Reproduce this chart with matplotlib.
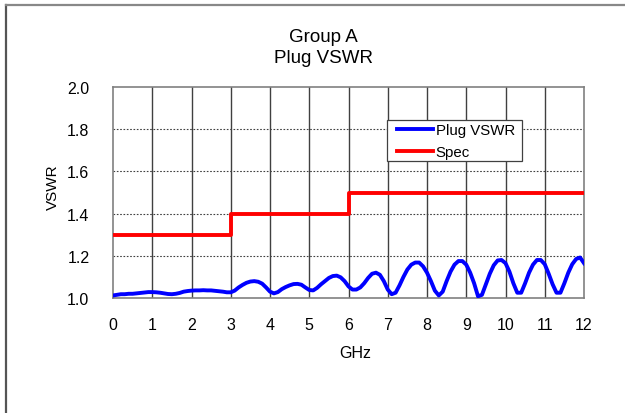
import matplotlib
matplotlib.use("Agg")
import matplotlib.pyplot as plt
from matplotlib.lines import Line2D
from matplotlib.patches import Rectangle

# ---- data ----
freq_ghz = [round(0.1 * i, 1) for i in range(121)]
plug_vswr = [
    1.012, 1.015, 1.018, 1.018, 1.020, 1.020, 1.022, 1.024, 1.026, 1.028,
    1.028, 1.027, 1.025, 1.022, 1.019, 1.018, 1.020, 1.024, 1.030, 1.033,
    1.035, 1.036, 1.036, 1.037, 1.036, 1.036, 1.034, 1.032, 1.030, 1.027,
    1.027, 1.035, 1.050, 1.062, 1.072, 1.078, 1.080, 1.077, 1.068, 1.050,
    1.030, 1.022, 1.028, 1.042, 1.052, 1.060, 1.066, 1.067, 1.063, 1.050,
    1.038, 1.036, 1.048, 1.065, 1.080, 1.095, 1.104, 1.106, 1.098, 1.080,
    1.055, 1.040, 1.040, 1.050, 1.070, 1.095, 1.115, 1.120, 1.110, 1.080,
    1.040, 1.018, 1.025, 1.060, 1.100, 1.135, 1.158, 1.168, 1.168, 1.150,
    1.120, 1.080, 1.035, 1.012, 1.030, 1.080, 1.125, 1.158, 1.175, 1.175,
    1.158, 1.120, 1.070, 1.008, 1.015, 1.065, 1.115, 1.155, 1.178, 1.180,
    1.165, 1.125, 1.070, 1.025, 1.025, 1.070, 1.120, 1.158, 1.180, 1.180,
    1.160, 1.115, 1.065, 1.025, 1.025, 1.070, 1.120, 1.160, 1.185, 1.192,
    1.165,
]
spec_x = [0, 3, 6, 12]
spec_y = [1.3, 1.4, 1.5, 1.5]
x_ticks = list(range(0, 13))
y_ticks = [1.0, 1.2, 1.4, 1.6, 1.8, 2.0]

plt.rcParams["font.family"] = ["Liberation Sans", "DejaVu Sans"]

W, H = 625, 414
fig = plt.figure(figsize=(W / 100, H / 100), dpi=100)
fig.patch.set_facecolor("white")

# outer border (left and top visible)
fig.add_artist(Line2D([5.5 / W, 5.5 / W], [0, 1 - 6 / H], transform=fig.transFigure,
                      color="#555555", lw=1.6))
fig.add_artist(Line2D([5.5 / W, 1], [1 - 6 / H, 1 - 6 / H], transform=fig.transFigure,
                      color="#888888", lw=1.6))

left, right, top, bottom = 113, 584, 88, 299
ax = fig.add_axes([left / W, 1 - bottom / H, (right - left) / W, (bottom - top) / H])

ax.plot(freq_ghz, plug_vswr, color="#0000FF", lw=2.8, label="Plug VSWR", zorder=3,
        solid_joinstyle="round")
ax.plot(spec_x, spec_y, color="#FF0000", lw=2.8, drawstyle="steps-post", label="Spec",
        zorder=3)

ax.set_xlim(0, 12)
ax.set_ylim(1.0, 2.0)
ax.set_xticks(x_ticks)
ax.set_yticks(y_ticks)
ax.set_yticklabels([f"{v:.1f}" for v in y_ticks])
ax.tick_params(axis="both", length=0, labelsize=11.5, colors="black")
ax.tick_params(axis="x", pad=14)
ax.tick_params(axis="y", pad=17)

for xv in x_ticks[1:-1]:
    ax.axvline(xv, color="#404040", lw=1.0, zorder=1)
for yv in y_ticks[1:-1]:
    ax.axhline(yv, color="#404040", lw=0.8, ls=(0, (1.5, 1.5)), zorder=1)

for s in ax.spines.values():
    s.set_color("#808080")
    s.set_linewidth(1.2)

fig.text(323 / W, 1 - 48 / H, "Group A\nPlug VSWR", ha="center", va="center",
         fontsize=13.5, linespacing=1.35)
fig.text(53 / W, 1 - 187 / H, "VSWR", rotation=90, ha="center", va="center",
         fontsize=11)
fig.text(355 / W, 1 - 354 / H, "GHz", ha="center", va="center", fontsize=11.5)

# legend frame drawn separately (inside the axes, under the legend)
frame = Rectangle((387 / W, 1 - 162 / H), (522 - 387) / W, (162 - 121) / H,
                  transform=fig.transFigure, facecolor="white",
                  edgecolor="#404040", lw=0.9, zorder=4, clip_on=False)
ax.add_artist(frame)
leg = ax.legend(loc="upper left", bbox_to_anchor=(396 / W, 1 - 123.5 / H),
                bbox_transform=fig.transFigure, borderaxespad=0, fontsize=10.8,
                handlelength=2.4, handletextpad=0.2, borderpad=0.05, labelspacing=0.5,
                frameon=False)
leg.set_zorder(5)

fig.savefig("out.png", dpi=100, facecolor="white")
